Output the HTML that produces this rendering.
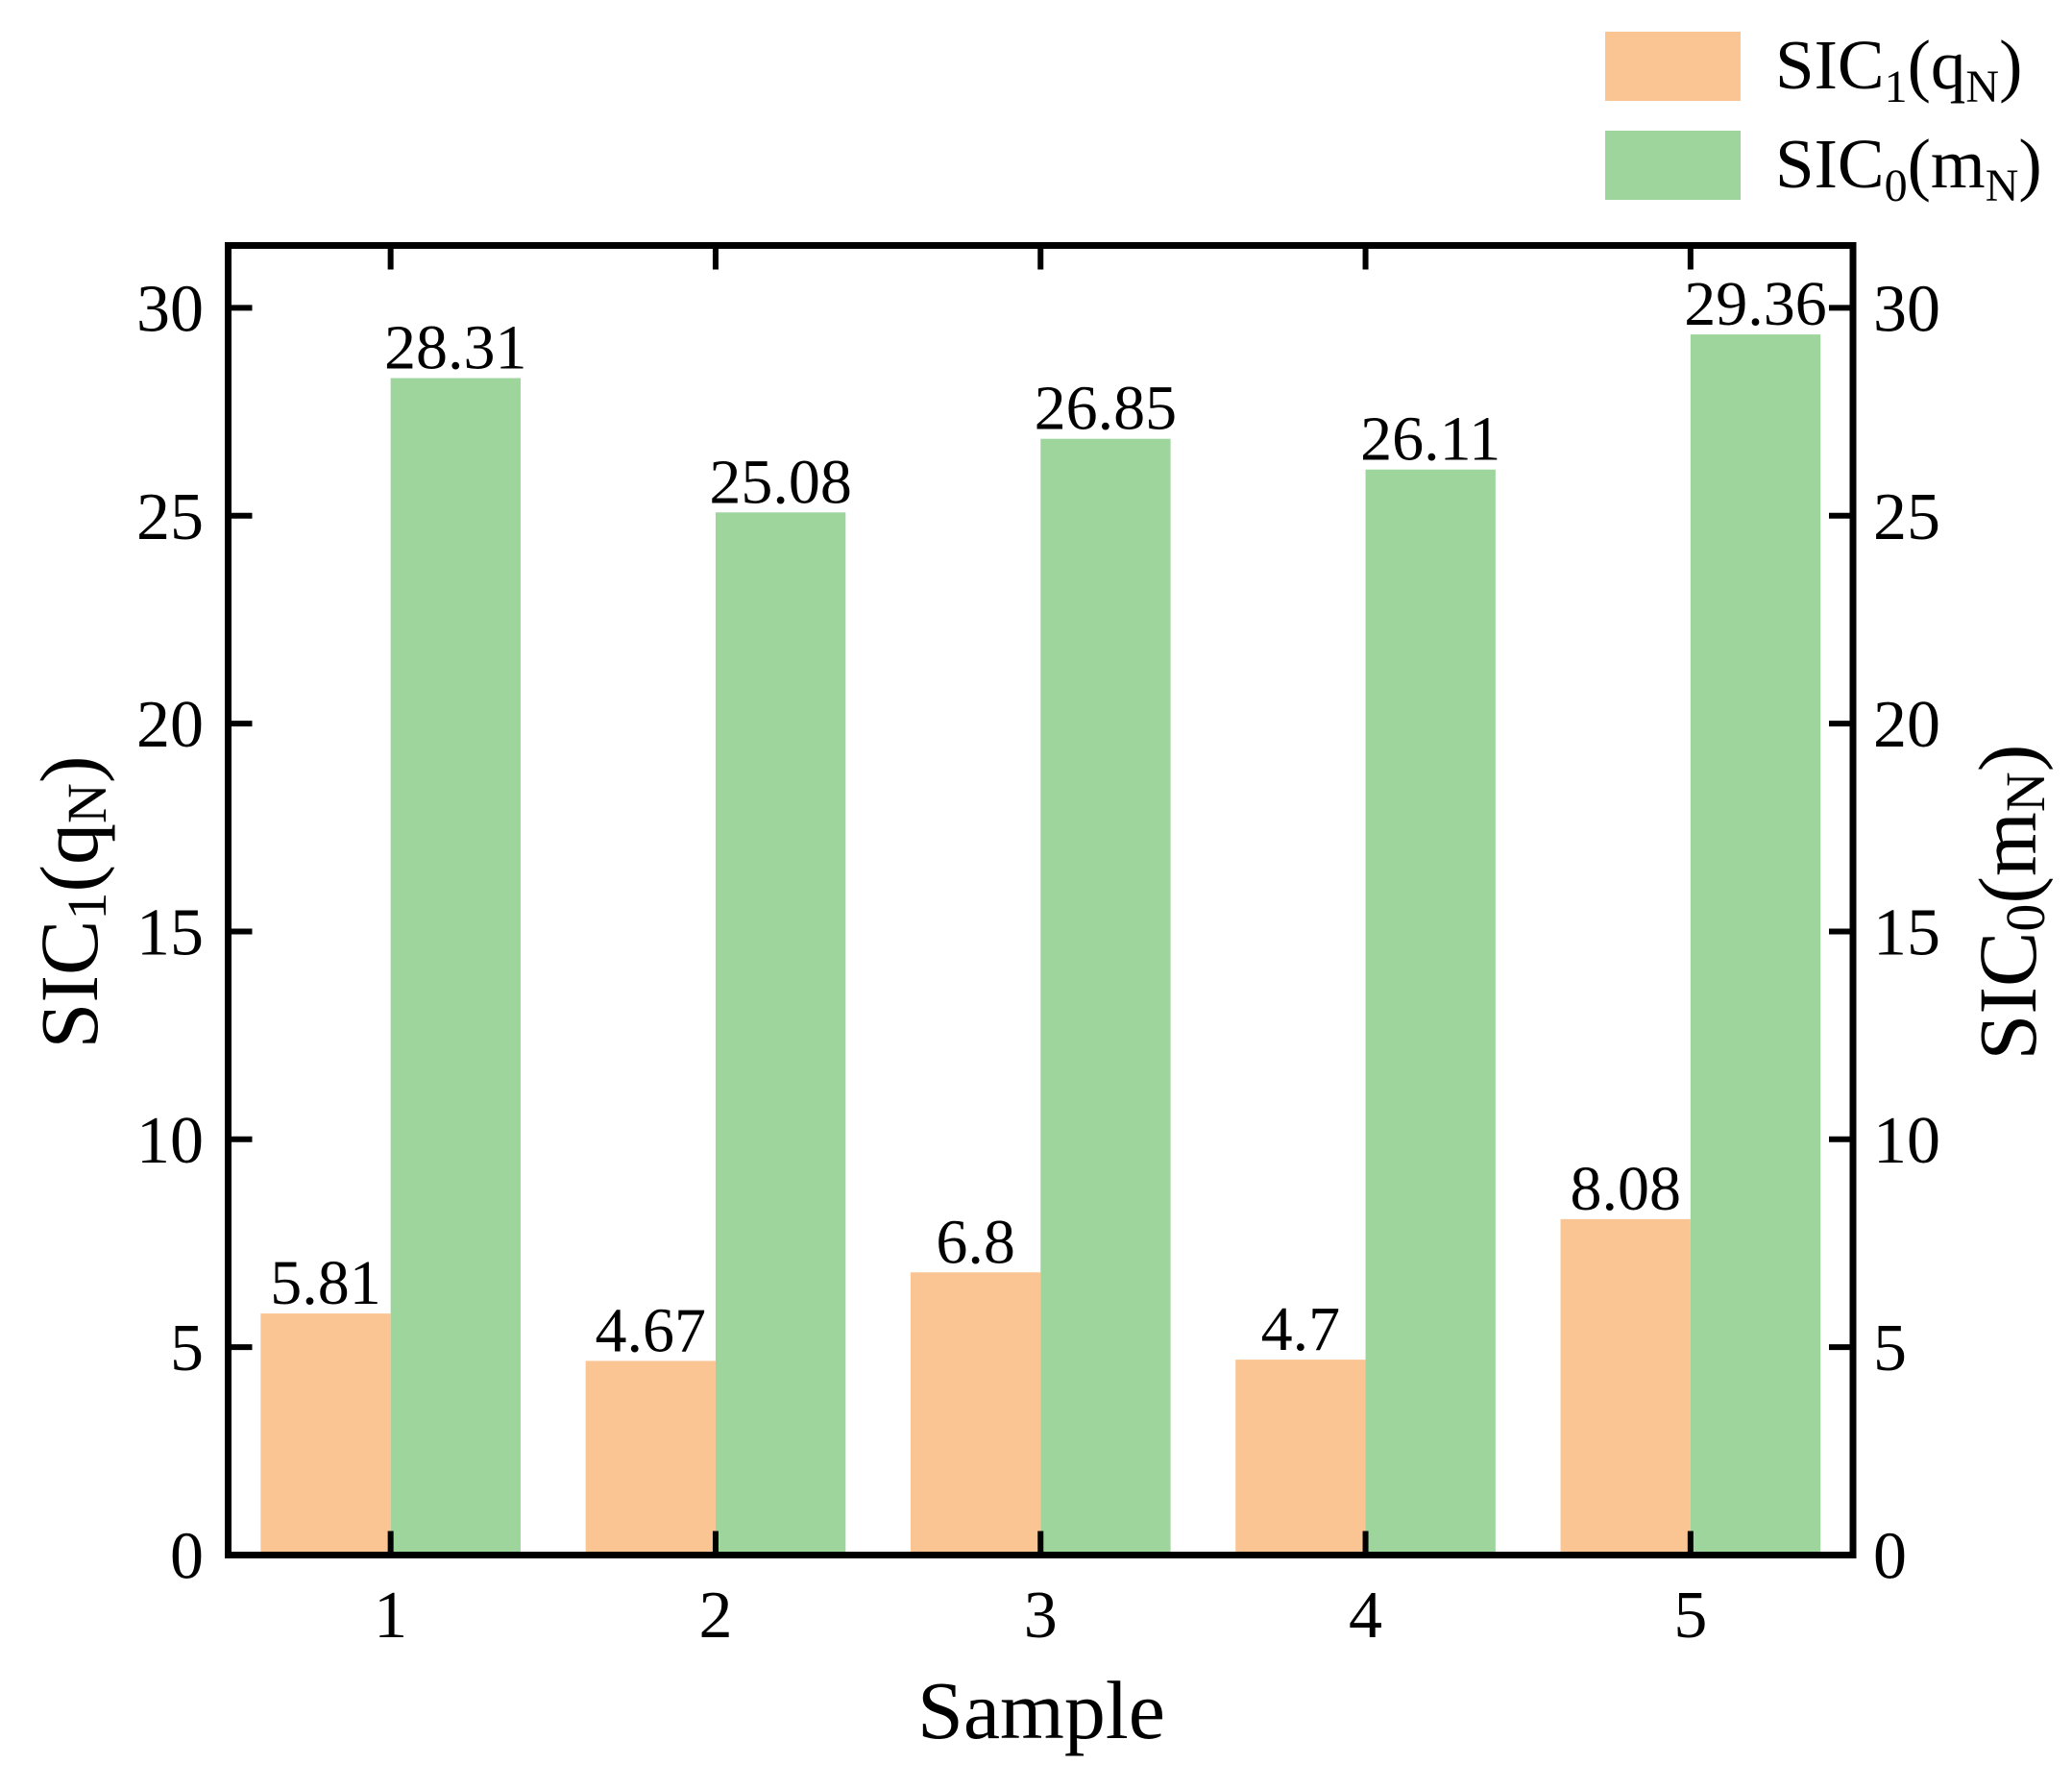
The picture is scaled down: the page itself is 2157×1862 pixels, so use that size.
<!DOCTYPE html>
<html><head><meta charset="utf-8">
<style>
html,body{margin:0;padding:0;background:#fff;}
svg{display:block;font-family:"Liberation Serif",serif;}
</style></head>
<body>
<svg id="chart" width="2157" height="1862" viewBox="0 0 2157 1862" xmlns="http://www.w3.org/2000/svg">
  <g id="bars"></g>
  <g id="labels"></g>
  <g id="axes"></g>
  <text x="72" y="939" font-size="86" text-anchor="middle" transform="rotate(-90 72 939)" dominant-baseline="central">SIC<tspan font-size="58" dy="18">1</tspan><tspan dy="-18">(q</tspan><tspan font-size="58" dy="18">N</tspan><tspan dy="-18">)</tspan></text>
  <text x="2090" y="939" font-size="86" text-anchor="middle" transform="rotate(-90 2090 939)" dominant-baseline="central">SIC<tspan font-size="58" dy="18">0</tspan><tspan dy="-18">(m</tspan><tspan font-size="58" dy="18">N</tspan><tspan dy="-18">)</tspan></text>
  <text x="1084" y="1809" font-size="86" text-anchor="middle">Sample</text>
  <g>
    <rect x="1671" y="33" width="141" height="72" fill="#fbc593"/>
    <text x="1848" y="92" font-size="73">SIC<tspan font-size="48" dy="14">1</tspan><tspan dy="-14">(q</tspan><tspan font-size="48" dy="14">N</tspan><tspan dy="-14">)</tspan></text>
    <rect x="1671" y="136" width="141" height="72" fill="#9dd59c"/>
    <text x="1848" y="195" font-size="73">SIC<tspan font-size="48" dy="14">0</tspan><tspan dy="-14">(m</tspan><tspan font-size="48" dy="14">N</tspan><tspan dy="-14">)</tspan></text>
  </g>
</svg>
<script>
const categories = ["1","2","3","4","5"];
const sic1Values = [5.81, 4.67, 6.8, 4.7, 8.08];
const sic0Values = [28.31, 25.08, 26.85, 26.11, 29.36];
const sic1Labels = ["5.81","4.67","6.8","4.7","8.08"];
const sic0Labels = ["28.31","25.08","26.85","26.11","29.36"];
const yTicks = [0,5,10,15,20,25,30];

const NS = "http://www.w3.org/2000/svg";
const L = 237.5, R = 1929, T = 255.5, B = 1618.5;
const yMax = 31.5;
const xScale = i => L + (i + 0.5) * (R - L) / categories.length;
const yScale = v => B - v * (B - T) / yMax;
const step = (R - L) / categories.length;
const bw = step * 0.4;

function mk(tag, attrs, parent) {
  const e = document.createElementNS(NS, tag);
  for (const k in attrs) e.setAttribute(k, attrs[k]);
  parent.appendChild(e);
  return e;
}
const gb = document.getElementById('bars');
const gl = document.getElementById('labels');
const ga = document.getElementById('axes');

categories.forEach((c, i) => {
  const cx = xScale(i);
  const r1 = mk('rect', {x: cx - bw, y: yScale(sic1Values[i]), width: bw, height: B - yScale(sic1Values[i]), fill: '#fbc593'}, gb);
  
  
  const r0 = mk('rect', {x: cx, y: yScale(sic0Values[i]), width: bw, height: B - yScale(sic0Values[i]), fill: '#9dd59c'}, gb);
  
  
  const t1 = mk('text', {x: cx - bw / 2, y: yScale(sic1Values[i]) - 10, 'font-size': 66, 'text-anchor': 'middle'}, gl);
  t1.textContent = sic1Labels[i];
  
  
  const t0 = mk('text', {x: cx + bw / 2, y: yScale(sic0Values[i]) - 10, 'font-size': 66, 'text-anchor': 'middle'}, gl);
  t0.textContent = sic0Labels[i];
  
  
  mk('line', {x1: cx, x2: cx, y1: B, y2: B - 25, stroke: '#000', 'stroke-width': 6}, ga);
  mk('line', {x1: cx, x2: cx, y1: T, y2: T + 25, stroke: '#000', 'stroke-width': 6}, ga);
  const xt = mk('text', {x: cx, y: 1704, 'font-size': 70, 'text-anchor': 'middle'}, ga);
  xt.textContent = c;
  
  
});

yTicks.forEach(v => {
  const y = yScale(v);
  mk('line', {x1: L, x2: L + 25, y1: y, y2: y, stroke: '#000', 'stroke-width': 6}, ga);
  mk('line', {x1: R, x2: R - 25, y1: y, y2: y, stroke: '#000', 'stroke-width': 6}, ga);
  const tl = mk('text', {x: 212, y: y + 24, 'font-size': 70, 'text-anchor': 'end'}, ga);
  tl.textContent = v;
  
  
  const tr = mk('text', {x: 1950, y: y + 24, 'font-size': 70, 'text-anchor': 'start'}, ga);
  tr.textContent = v;
  
  
});
const frame = mk('rect', {x: L, y: T, width: R - L, height: B - T, fill: 'none', stroke: '#000', 'stroke-width': 7}, ga);


</script>
</body></html>
